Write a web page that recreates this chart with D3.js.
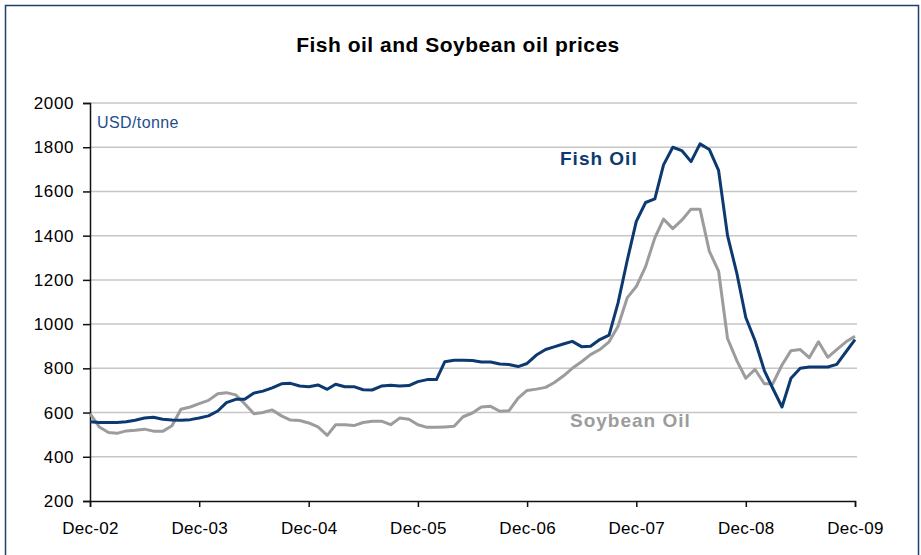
<!DOCTYPE html>
<html>
<head>
<meta charset="utf-8">
<script src="https://cdn.jsdelivr.net/npm/d3@7"></script>
<style>
  body { margin: 0; background: #fff; }
  text { font-family: "Liberation Sans", Arial, sans-serif; }
</style>
</head>
<body>
<svg id="chart" width="921" height="555"></svg>
<script>
// monthly prices, Dec-02 .. Dec-09 (USD/tonne)
const fishOil = [
  558, 555, 555, 555, 558, 565, 575, 579, 570, 566, 565, 568,
  575, 585, 607, 645, 660, 660, 688, 697, 712, 730, 732, 720,
  717, 725, 705, 728, 717, 717, 703, 702, 720, 724, 720, 722,
  740, 749, 749, 830, 837, 837, 835, 829, 829, 820, 817, 808,
  822, 860, 885, 897, 910, 922, 898, 900, 930, 950, 1096, 1290,
  1465, 1550, 1566, 1720, 1800, 1785, 1735, 1815, 1790, 1695, 1400, 1230,
  1030, 925, 790, 710, 625, 755, 800, 806, 806, 806, 818, 875,
  930
];
const soybeanOil = [
  595, 535, 510, 506, 517, 520, 525, 516, 515, 540, 615, 625,
  640, 655, 685, 690, 680, 640, 595, 600, 612, 585, 566, 564,
  553, 535, 497, 545, 545, 541, 555, 561, 561, 545, 575, 570,
  545, 533, 533, 535, 538, 581, 598, 625, 628, 606, 608, 665,
  700, 706, 714, 735, 765, 800, 830, 862, 885, 920, 990, 1120,
  1170, 1260, 1390, 1475, 1432, 1470, 1520, 1520, 1330, 1240, 935, 835,
  755, 795, 730, 730, 815, 880, 885, 848, 920, 850, 885, 920,
  945
];
const yTicks = [200, 400, 600, 800, 1000, 1200, 1400, 1600, 1800, 2000];
const xTickLabels = ["Dec-02", "Dec-03", "Dec-04", "Dec-05", "Dec-06", "Dec-07", "Dec-08", "Dec-09"];

let svg = d3.select("#chart"),
    width = +svg.attr("width"),
    height = +svg.attr("height"),
    margin = { top: 103, right: 66, bottom: 54, left: 90 };

let chartWidth = width - margin.left - margin.right;
let chartHeight = height - margin.top - margin.bottom;

// outer frame
svg.append("rect")
  .attr("x", 5.5).attr("y", 5.5)
  .attr("width", 913).attr("height", 560)
  .attr("fill", "none").attr("stroke", "#1f3f6f").attr("stroke-width", 1.5);

svg.append("text")
  .attr("x", 458).attr("y", 52)
  .attr("text-anchor", "middle")
  .attr("font-size", 21).attr("font-weight", "bold").attr("letter-spacing", 0.5)
  .text("Fish oil and Soybean oil prices");

let g = svg.append("g").attr("transform", `translate(${margin.left},${margin.top})`);

let months = d3.timeMonth.range(new Date(2002, 11, 1), new Date(2010, 0, 1));
let tickDates = d3.timeYear.range(new Date(2002, 0, 1), new Date(2010, 0, 1)).map(d => d3.timeMonth.offset(d, 11));

let xScale = d3.scaleTime().domain([months[0], months[months.length - 1]]).range([0, chartWidth]);
let yScale = d3.scaleLinear().domain([200, 2000]).range([chartHeight, 0]);

// gridlines
g.append("g").selectAll("line")
  .data(yTicks.slice(1))
  .enter().append("line")
  .attr("x1", 0).attr("x2", chartWidth + 2)
  .attr("y1", d => yScale(d)).attr("y2", d => yScale(d))
  .attr("stroke", "#c6c6c6").attr("stroke-width", 1.5);

let yAxis = g.append("g")
  .call(d3.axisLeft(yScale).tickValues(yTicks).tickSize(7).tickPadding(9).tickFormat(d3.format("d")));
yAxis.select(".domain").attr("stroke", "#111").attr("stroke-width", 1.5);
yAxis.selectAll(".tick line").attr("stroke", "#111").attr("stroke-width", 1.5);
yAxis.selectAll("text").attr("font-size", 17).attr("letter-spacing", 0.6)
  .attr("font-family", "Liberation Sans, Arial").attr("fill", "#000");

let xAxis = g.append("g").attr("transform", `translate(0,${chartHeight})`)
  .call(d3.axisBottom(xScale).tickValues(tickDates).tickSize(6).tickPadding(15)
    .tickFormat((d, i) => xTickLabels[i]));
xAxis.select(".domain").attr("stroke", "#111").attr("stroke-width", 1.5);
xAxis.selectAll(".tick line").attr("stroke", "#111").attr("stroke-width", 1.5);
xAxis.selectAll("text").attr("font-size", 17).attr("letter-spacing", 0.3)
  .attr("font-family", "Liberation Sans, Arial").attr("fill", "#000");

let line = d3.line()
  .x((d, i) => xScale(months[i]))
  .y(d => yScale(d));

g.append("path")
  .datum(soybeanOil)
  .attr("d", line)
  .attr("fill", "none").attr("stroke", "#9c9c9c").attr("stroke-width", 3)
  .attr("stroke-linejoin", "round");

g.append("path")
  .datum(fishOil)
  .attr("d", line)
  .attr("fill", "none").attr("stroke", "#0c3a70").attr("stroke-width", 3)
  .attr("stroke-linejoin", "round");

svg.append("text")
  .attr("x", 97).attr("y", 128)
  .attr("font-size", 16).attr("letter-spacing", 0.4).attr("fill", "#1f4e8c")
  .text("USD/tonne");

svg.append("text")
  .attr("x", 560).attr("y", 165)
  .attr("font-size", 19).attr("font-weight", "bold").attr("letter-spacing", 1).attr("fill", "#0c3a70")
  .text("Fish Oil");

svg.append("text")
  .attr("x", 570).attr("y", 427)
  .attr("font-size", 19).attr("font-weight", "bold").attr("letter-spacing", 1).attr("fill", "#9c9c9c")
  .text("Soybean Oil");
</script>
</body>
</html>
